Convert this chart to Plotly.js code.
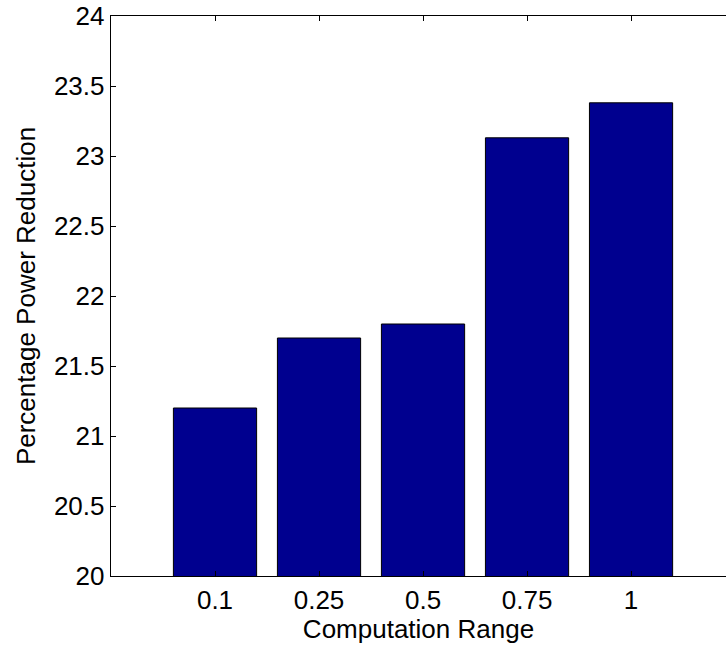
<!DOCTYPE html>
<html>
<head>
<script src="https://cdn.plot.ly/plotly-3.0.1.min.js"></script>
<style>html,body{margin:0;padding:0;background:#fff;}#chart{width:726px;height:651px;}</style>
</head>
<body>
<div id="chart"></div>
<script>
var categories = ["0.1", "0.25", "0.5", "0.75", "1"];
var positions = [1, 2, 3, 4, 5];
var values = [21.2, 21.7, 21.8, 23.13, 23.38];
var yTicks = [20, 20.5, 21, 21.5, 22, 22.5, 23, 23.5, 24];
var yTickLabels = ["20", "20.5", "21", "21.5", "22", "22.5", "23", "23.5", "24"];

var font = "Liberation Sans, Arial, Helvetica, sans-serif";
var fs = 26;
var trace = {
  type: "bar",
  x: positions,
  y: values,
  width: 0.8,
  marker: {color: "#00008F", line: {color: "#000000", width: 1}},
  hoverinfo: "skip"
};
var layout = {
  width: 726, height: 651,
  margin: {l: 111, r: 0, t: 16, b: 75},
  paper_bgcolor: "#ffffff", plot_bgcolor: "#ffffff",
  showlegend: false,
  font: {family: font, size: fs, color: "#000"},
  xaxis: {
    range: [0, 5.913],
    tickvals: positions, ticktext: categories,
    ticks: "inside", ticklen: 5, tickwidth: 1, tickcolor: "#000",
    showline: true, linecolor: "#000", linewidth: 1.3, mirror: "ticks",
    showgrid: false, zeroline: false,
    tickfont: {family: font, size: fs, color: "#000"},
    title: {text: "Computation Range", font: {family: font, size: fs, color: "#000"}, standoff: 4}
  },
  yaxis: {
    range: [20, 24],
    tickvals: yTicks, ticktext: yTickLabels,
    ticks: "inside", ticklen: 5, tickwidth: 1, tickcolor: "#000",
    showline: true, linecolor: "#000", linewidth: 1.3, mirror: false,
    showgrid: false, zeroline: false,
    tickfont: {family: font, size: fs, color: "#000"},
    title: {text: "Percentage Power Reduction", font: {family: font, size: fs, color: "#000"}, standoff: 10}
  }
};
Plotly.newPlot("chart", [trace], layout, {displayModeBar: false, staticPlot: true});
</script>
</body>
</html>
